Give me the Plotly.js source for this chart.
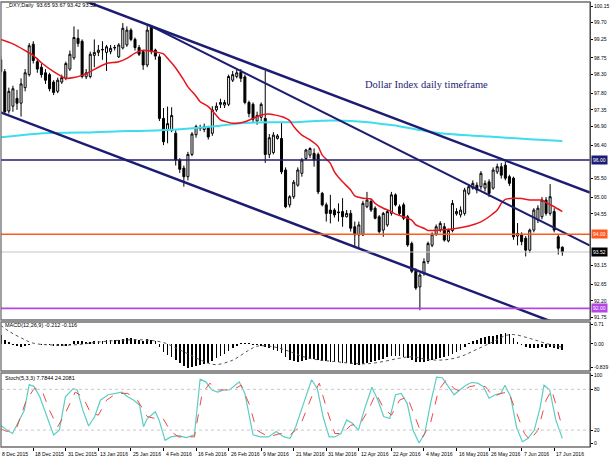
<!DOCTYPE html>
<html><head><meta charset="utf-8">
<script src="https://cdn.plot.ly/plotly-3.0.1.min.js"></script>
<style>html,body{margin:0;padding:0;background:#fff;}#chart{width:610px;height:457px;}</style>
</head><body><div id="chart"></div>
<script>
// ---- price data (daily candles, bar index 0 = 8 Dec 2015) ----
const openP=[98.70,98.38,97.32,97.45,97.66,97.53,97.95,98.30,99.12,98.65,98.50,98.35,98.30,98.10,97.85,98.10,98.20,98.45,98.75,99.28,
99.20,98.24,98.25,98.82,98.90,98.98,98.90,98.92,99.02,98.78,99.02,99.10,99.50,99.25,99.03,98.92,98.56,99.60,98.96,98.78,
97.12,96.82,96.80,96.72,96.00,95.78,95.55,96.15,96.68,96.85,96.82,96.88,96.72,97.35,97.50,97.48,97.50,98.15,98.25,98.36,
98.24,97.55,97.50,97.05,97.15,97.12,96.15,96.20,96.58,96.58,95.73,94.79,95.01,95.32,95.64,96.04,96.13,96.18,96.15,95.10,
94.79,94.65,94.65,94.60,94.61,94.47,94.56,94.20,93.98,93.98,94.74,94.88,94.70,94.47,94.11,94.25,94.56,95.06,94.74,94.79,
94.47,93.75,93.00,92.58,92.95,93.26,93.70,94.00,94.12,94.20,93.82,94.10,94.55,94.52,94.56,95.10,95.24,95.32,95.28,95.24,
95.41,95.24,95.68,95.82,95.86,95.55,95.51,93.95,93.98,93.89,93.57,94.11,94.38,94.47,94.92,94.56,94.61,93.93,93.65];
const highP=[98.80,98.45,97.95,98.00,97.89,98.20,98.45,99.15,99.20,98.75,98.60,98.45,98.35,98.15,98.22,98.30,98.65,98.95,99.60,99.52,
99.25,98.45,98.92,99.25,99.10,99.20,99.10,99.10,99.10,99.15,99.69,99.60,99.55,99.30,99.10,98.95,99.65,99.64,99.00,98.85,
97.40,97.44,97.42,96.80,96.05,95.85,96.22,96.75,96.95,96.95,96.98,96.92,97.45,97.55,97.65,97.62,98.30,98.40,98.45,98.45,
98.30,97.60,97.55,97.30,97.55,98.40,96.70,96.75,96.70,97.03,95.80,95.05,95.46,95.80,96.05,96.30,96.34,96.31,96.20,95.14,
94.85,95.06,94.70,94.83,94.97,94.65,94.65,94.34,94.34,94.90,95.14,94.95,94.75,94.52,94.60,94.66,95.14,95.10,94.80,94.85,
94.52,93.80,93.08,92.95,93.35,93.80,94.05,94.26,94.35,94.30,94.15,94.92,94.70,94.75,95.25,95.35,95.45,95.40,95.70,95.45,
95.48,95.80,95.90,95.92,95.95,95.60,95.55,94.30,94.05,93.95,94.15,94.70,94.78,95.00,95.00,95.35,94.70,94.00,93.67];
const lowP=[98.30,97.25,97.25,97.30,97.35,97.17,97.85,98.25,98.60,98.35,98.22,98.05,97.85,97.75,97.80,98.05,98.15,98.40,98.70,99.05,
98.20,98.18,98.20,98.50,98.80,98.70,98.40,98.85,98.95,98.75,98.98,99.05,99.20,98.95,98.80,98.43,98.50,98.85,98.70,97.05,
96.40,96.45,96.75,95.85,95.65,95.28,95.45,96.10,96.60,96.78,96.75,96.55,96.65,97.30,97.40,97.40,97.45,98.10,98.20,98.10,
97.50,97.15,97.00,96.95,97.05,95.92,96.05,96.15,96.55,95.62,94.70,94.72,94.95,95.28,95.55,96.00,96.05,95.82,95.08,94.75,
94.34,94.29,94.45,94.34,94.20,94.45,94.07,93.66,93.62,93.95,94.70,94.60,94.40,94.02,93.93,94.20,94.50,94.75,94.50,94.38,
93.66,92.95,92.50,91.95,92.88,93.20,93.65,93.95,94.05,93.80,93.78,94.05,94.50,94.45,94.50,95.05,95.20,95.10,95.20,95.15,
95.00,95.20,95.62,95.50,95.45,95.30,93.85,93.70,93.70,93.40,93.50,94.05,94.30,94.40,94.50,94.50,94.05,93.45,93.42];
const closeP=[98.38,97.30,97.85,97.92,97.53,98.05,98.35,99.08,98.68,98.45,98.30,98.15,97.92,97.82,98.15,98.22,98.60,98.85,99.30,99.14,
98.25,98.35,98.85,98.90,98.96,98.97,99.05,99.01,99.03,99.10,99.55,99.50,99.25,99.03,98.85,98.56,99.50,98.92,98.80,97.12,
96.49,96.98,97.20,96.00,95.75,95.55,96.15,96.70,96.90,96.86,96.90,96.62,97.35,97.45,97.55,97.55,98.25,98.30,98.35,98.20,
97.55,97.25,97.10,97.20,97.50,96.15,96.60,96.67,96.65,95.68,94.74,95.01,95.40,95.73,96.00,96.27,96.31,96.00,95.14,94.79,
94.56,94.56,94.52,94.58,94.47,94.56,94.16,93.98,94.25,94.83,94.92,94.65,94.43,94.07,94.56,94.61,95.06,94.79,94.56,94.43,
93.71,93.00,92.55,92.90,93.26,93.75,94.00,94.20,94.29,93.84,94.10,94.83,94.61,94.65,95.19,95.28,95.37,95.19,95.64,95.37,
95.10,95.73,95.82,95.59,95.51,95.37,93.93,94.02,93.80,93.57,94.11,94.65,94.70,94.92,94.56,95.01,94.11,93.62,93.52];

// ---- moving averages (values read at bar positions) ----
const maRedX=[0,3,6,8,10,13,16,18,20,22,24,26,29,31,33,35,37,40,41,43,45,46,48,49,51,53,54,57,58,60,62,64,66,67,69,71,72,74,76,78,79,81,82,84,86,87,89,91,92,94,96,97,99,101,102,104,105,108,111,115,118,120,122,123,124,126,128,130,133,134,136,138];
const maRedY=[99.25,99.13,98.95,98.82,98.62,98.38,98.20,98.22,98.28,98.38,98.50,98.60,98.65,98.74,98.88,98.96,98.93,98.86,98.74,98.48,98.15,97.97,97.72,97.57,97.44,97.20,97.08,96.99,96.99,97.03,97.12,97.21,97.24,97.22,97.17,97.06,96.90,96.67,96.54,96.36,96.13,95.91,95.68,95.41,95.19,95.03,94.97,94.95,94.83,94.70,94.61,94.54,94.47,94.38,94.25,94.16,94.10,94.11,94.14,94.22,94.33,94.47,94.65,94.83,94.94,94.97,94.96,94.92,94.92,94.85,94.74,94.61];
const maCyanX=[0,8,12,20,28,36,44,52,60,72,79,88,96,104,108,120,130,138];
const maCyanY=[96.61,96.70,96.73,96.74,96.77,96.79,96.83,96.90,97.00,97.02,97.06,97.04,96.94,96.79,96.72,96.63,96.56,96.51];

// ---- trend lines (bar index, price) ----
const trendUpperX=[14.6,144.8], trendUpperY=[100.54,95.12];
const trendMidX=[36.2,144.8],   trendMidY=[99.65,93.69];
const trendLowerX=[-0.2,137.4], trendLowerY=[97.29,91.56];
const levels=[96.00,94.00,93.52,92.00];
const levelText=['96.00','94.00','93.52','92.00'];

// ---- MACD(12,26,9) ----
const macdHist=[0.32,0.14,0.06,-0.05,-0.08,-0.10,-0.08,-0.03,0.00,-0.01,-0.02,-0.03,-0.05,-0.07,-0.08,-0.07,-0.06,-0.02,0.10,0.12,
0.09,0.07,0.08,0.10,0.11,0.12,0.13,0.14,0.15,0.16,0.19,0.21,0.20,0.18,0.15,0.12,0.17,0.14,0.10,-0.12,
-0.30,-0.40,-0.46,-0.58,-0.70,-0.80,-0.86,-0.84,-0.80,-0.76,-0.72,-0.68,-0.60,-0.52,-0.44,-0.36,-0.26,-0.15,-0.06,0.04,
0.05,0.02,-0.02,-0.04,-0.06,-0.12,-0.16,-0.20,-0.25,-0.33,-0.48,-0.56,-0.62,-0.63,-0.60,-0.56,-0.54,-0.55,-0.58,-0.60,
-0.62,-0.63,-0.64,-0.66,-0.68,-0.70,-0.72,-0.74,-0.75,-0.72,-0.68,-0.64,-0.60,-0.57,-0.53,-0.48,-0.44,-0.42,-0.43,-0.45,
-0.50,-0.58,-0.64,-0.66,-0.63,-0.60,-0.57,-0.55,-0.52,-0.48,-0.42,-0.36,-0.28,-0.20,-0.12,0.02,0.10,0.15,0.20,0.24,
0.27,0.30,0.33,0.37,0.38,0.37,0.20,0.08,-0.05,-0.12,-0.14,-0.15,-0.14,-0.12,-0.13,-0.12,-0.16,-0.19,-0.212];
const macdSigX=[0,2,5,8,14,19,24,30,36,40,44,48,51,53,57,61,63,67,71,74,78,82,86,90,94,98,101,105,109,113,117,121,124,126,130,134,138];
const macdSigY=[0.67,0.46,0.22,0.03,-0.04,-0.02,0.07,0.14,0.14,0.05,-0.21,-0.50,-0.69,-0.74,-0.58,-0.22,-0.08,-0.10,-0.27,-0.44,-0.57,-0.63,-0.69,-0.71,-0.63,-0.51,-0.46,-0.56,-0.57,-0.45,-0.19,0.08,0.30,0.34,0.20,0.02,-0.116];

// ---- Stochastic(5,3,3) ----
const stochMainX=[0,1.5,2.9,4.4,5.8,7,8.2,9.6,11.6,13,14.4,15.9,17.8,18.8,20.2,21.6,23.1,24.5,26.4,28.4,29.8,31.2,32.7,34.1,35.1,36,38,38.9,40.4,41.8,43.7,45.6,47.6,49,50.4,51.9,53.3,54.8,56.2,57.6,58.6,60,62,63.9,65.8,67.7,69.6,71.1,72.5,74.4,76.4,77.8,79.2,80.7,82.1,83.6,85,86.4,87.9,89.3,91.2,92.7,94.1,95.6,97,98.4,99.9,101.3,102.8,104.2,105.6,107.1,108.5,110,111.4,112.8,114.3,115.7,117.2,118.6,120,121.5,122.9,123.9,125.3,126.8,128.2,129.6,131.1,132.5,133.5,134.9,136.4,138];
const stochMainY=[27,20,15,32,49,87,84,69,35,13,20,69,81,79,49,26,40,64,72,74,76,69,64,57,25,37,47,35,5,10,12,9,13,95,91,79,76,79,79,86,91,74,13,10,10,18,10,8,25,59,94,81,40,10,10,15,35,30,20,49,83,64,40,37,72,74,59,20,1,15,59,98,97,84,72,79,86,90,89,84,67,72,74,86,69,23,3,8,20,52,86,79,35,7.78];
const stochSigX=[0,1.5,3.9,6.3,8.2,10.1,12,14,15.9,18.3,20.2,22.1,24,26,28.4,31.2,33.6,36,38,39.9,41.8,43.7,47.6,49.5,51.4,53.3,57.2,59.1,61,62.9,65.8,68.7,71.1,73.5,76.4,78.3,80.2,82.1,84,86,88.4,90.3,92.2,94.1,96,98,99.9,101.8,103.7,105.6,107.6,109.5,111.4,113.3,115.2,117.2,119.1,121,122.9,124.8,126.8,128.7,130.1,132,134,135.4,138];
const stochSigY=[22,18,23,64,81,79,49,25,45,76,69,45,42,64,74,74,64,40,37,37,18,10,10,74,89,79,80,86,59,20,10,15,13,25,69,89,49,15,15,27,30,49,74,52,42,64,69,40,10,30,79,94,81,76,84,86,84,69,74,76,45,15,5,20,64,79,24.21];

// ---- axis labels ----
const xTickIdx=[0,8,16,24,32,40,48,56,64,72,80,88,96,104,112,120,128,136];
const xTickText=['8 Dec 2015','18 Dec 2015','31 Dec 2015','13 Jan 2016','25 Jan 2016','4 Feb 2016','16 Feb 2016','26 Feb 2016','9 Mar 2016','21 Mar 2016','31 Mar 2016','12 Apr 2016','22 Apr 2016','4 May 2016','16 May 2016','26 May 2016','7 Jun 2016','17 Jun 2016'];
const priceTicks=[100.15,99.70,99.25,98.75,98.30,97.80,97.35,96.90,96.40,95.50,95.00,94.55,93.15,92.65,92.20,91.75];
const macdTicks=[0.71,0,-0.839], macdTickText=['0.71','0.00','-0.839'];
const stochTicks=[100,80,20,0];

const XMIN=0.07, XMAX=144.8;
const bars=openP.map((_,i)=>i);
const F='Liberation Sans, Arial, sans-serif';
const NAVY='#1c1c72';
const traces=[
 {type:'candlestick',x:bars,open:openP,high:highP,low:lowP,close:closeP,xaxis:'x',yaxis:'y',
  increasing:{line:{color:'#000',width:1},fillcolor:'#ffffff'},
  decreasing:{line:{color:'#000',width:1},fillcolor:'#000000'},whiskerwidth:0,hoverinfo:'skip'},
 {type:'scatter',mode:'lines',x:maCyanX,y:maCyanY,line:{color:'#3fdcee',width:2,shape:'spline'},yaxis:'y'},
 {type:'scatter',mode:'lines',x:maRedX,y:maRedY,line:{color:'#e8141c',width:1.5,shape:'spline',smoothing:0.6},yaxis:'y'},
 {type:'scatter',mode:'lines',x:trendUpperX,y:trendUpperY,line:{color:NAVY,width:2.5},yaxis:'y'},
 {type:'scatter',mode:'lines',x:trendMidX,y:trendMidY,line:{color:NAVY,width:2},yaxis:'y'},
 {type:'scatter',mode:'lines',x:trendLowerX,y:trendLowerY,line:{color:NAVY,width:2.5},yaxis:'y'},
 {type:'bar',x:bars,y:macdHist,marker:{color:'#000',line:{width:0}},width:0.42,yaxis:'y2'},
 {type:'scatter',mode:'lines',x:macdSigX,y:macdSigY,line:{color:'#555',width:1,dash:'dot',shape:'spline'},yaxis:'y2'},
 {type:'scatter',mode:'lines',x:stochMainX,y:stochMainY,line:{color:'#5ccdc4',width:1.2},yaxis:'y3'},
 {type:'scatter',mode:'lines',x:stochSigX,y:stochSigY,line:{color:'#f04848',width:1,dash:'dash'},yaxis:'y3'}
];

const yBase={side:'right',anchor:'x',showgrid:false,zeroline:false,ticks:'outside',ticklen:2,tickcolor:'#000',
  tickfont:{family:F,size:5,color:'#000'},showline:true,linecolor:'#000',linewidth:1,tickmode:'array',fixedrange:true};
const D1=[0.2854,1],D2=[0.1708,0.2809],D3=[0,0.1663];
const levelColors=[NAVY,'#ff5a1e','#c4c4c4','#b446e6'];
const boxColors=[NAVY,'#ff5a1e','#000000','#b446e6'];
const shapes=[];
levels.forEach((v,k)=>shapes.push({type:'line',xref:'paper',x0:0,x1:1,yref:'y',y0:v,y1:v,
  line:{color:levelColors[k],width:k===2?1:1.6},layer:'above'}));
[80,20].forEach(v=>shapes.push({type:'line',xref:'paper',x0:0,x1:1,yref:'y3',y0:v,y1:v,line:{color:'#c8c8c8',width:1,dash:'dot'}}));
[D1,D2,D3].forEach(d=>shapes.push({type:'rect',xref:'paper',yref:'paper',x0:0,x1:1,y0:d[0],y1:d[1],line:{color:'#6e6e6e',width:1.3},layer:'above'}));

const ann=[];
levels.forEach((v,k)=>ann.push({xref:'paper',x:1,xanchor:'left',xshift:1,yref:'y',y:v,yanchor:'middle',text:levelText[k],
  showarrow:false,bgcolor:boxColors[k],borderpad:1,font:{family:F,size:5,color:'#fff'}}));
xTickIdx.forEach((ix,k)=>ann.push({xref:'x',x:Math.max(ix,XMIN+0.05),xanchor:'left',xshift:k===0?-1:0,yref:'paper',y:0,yanchor:'top',yshift:-2,
  text:xTickText[k],showarrow:false,font:{family:F,size:5.1,color:'#000'}}));
ann.push({xref:'paper',x:0.004,xanchor:'left',yref:'paper',y:0.993,yanchor:'middle',showarrow:false,
  text:'_DXY,Daily  93.65 93.67 93.42 93.52',font:{family:F,size:5.5,color:'#000'}});
ann.push({xref:'paper',x:0.004,xanchor:'left',yref:'paper',y:0.2735,yanchor:'middle',showarrow:false,
  text:'MACD(12,26,9) -0.212 -0.116',font:{family:F,size:5.5,color:'#000'}});
ann.push({xref:'paper',x:0.004,xanchor:'left',yref:'paper',y:0.1545,yanchor:'middle',showarrow:false,
  text:'Stoch(5,3,3) 7.7844 24.2081',font:{family:F,size:5.5,color:'#000'}});
ann.push({xref:'paper',x:0.6146,xanchor:'left',yref:'paper',y:0.8157,yanchor:'middle',showarrow:false,
  text:'Dollar Index daily timeframe',font:{family:'Liberation Serif, Times New Roman, serif',size:10.5,color:NAVY}});

const layout={width:610,height:457,margin:{l:1,r:20,t:2,b:10},paper_bgcolor:'#fff',plot_bgcolor:'#fff',
  showlegend:false,hovermode:false,bargap:0,
  xaxis:{type:'linear',range:[XMIN,XMAX],anchor:'y3',showgrid:false,zeroline:false,showline:false,
    tickmode:'array',tickvals:xTickIdx,ticks:'outside',ticklen:3,tickcolor:'#000',showticklabels:false,
    rangeslider:{visible:false},fixedrange:true},
  yaxis:Object.assign({},yBase,{domain:D1,range:[91.687,100.258],tickvals:priceTicks,ticktext:priceTicks.map(v=>v.toFixed(2))}),
  yaxis2:Object.assign({},yBase,{domain:D2,range:[-0.97,0.79],tickvals:macdTicks,ticktext:macdTickText}),
  yaxis3:Object.assign({},yBase,{domain:D3,range:[-4.85,104],tickvals:stochTicks,ticktext:stochTicks.map(String)}),
  shapes:shapes,annotations:ann};
Plotly.newPlot('chart',traces,layout,{staticPlot:true,displayModeBar:false});
</script></body></html>
